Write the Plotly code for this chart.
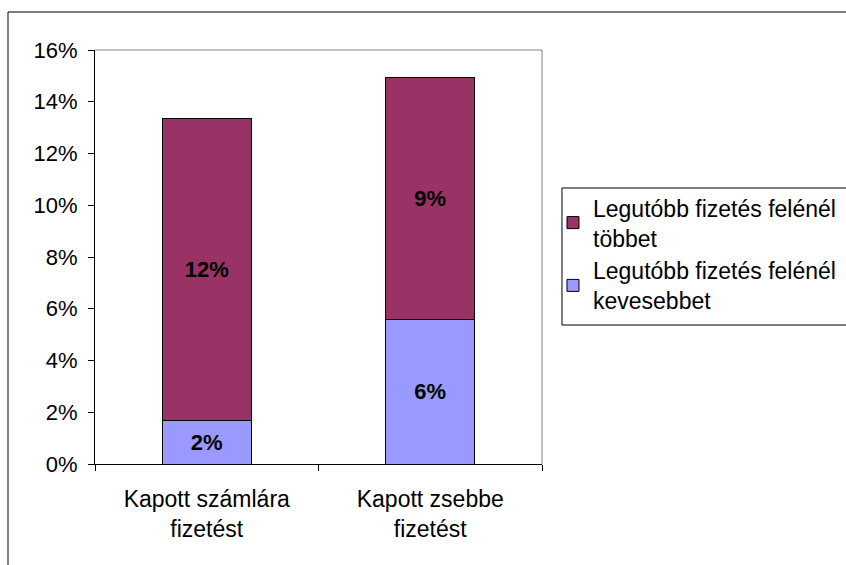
import plotly.graph_objects as go

# Categories and stacked shares
categories = ["Kapott számlára<br>fizetést", "Kapott zsebbe<br>fizetést"]
less_than_half = [0.017, 0.056]
more_than_half = [0.1167, 0.0932]
y_ticks = [0, 0.02, 0.04, 0.06, 0.08, 0.10, 0.12, 0.14, 0.16]

FONT = "Liberation Sans, Arial, sans-serif"

fig = go.Figure()

fig.add_trace(go.Bar(
    x=categories, y=less_than_half, name="Legutóbb fizetés felénél<br>kevesebbet",
    marker=dict(color="#9999FF", line=dict(color="black", width=1)),
    texttemplate="<b>%{y:.0%}</b>", textposition="inside", insidetextanchor="middle",
    constraintext="none", textfont=dict(color="black", size=22), width=0.4,
))
fig.add_trace(go.Bar(
    x=categories, y=more_than_half, name="Legutóbb fizetés felénél<br>többet",
    marker=dict(color="#993366", line=dict(color="black", width=1)),
    texttemplate="<b>%{y:.0%}</b>", textposition="inside", insidetextanchor="middle",
    constraintext="none", textfont=dict(color="black", size=22), width=0.4,
))

fig.update_layout(
    width=846, height=565, barmode="stack",
    margin=dict(l=95, r=304, t=50, b=101, autoexpand=False),
    paper_bgcolor="white", plot_bgcolor="white",
    font=dict(family=FONT, size=22, color="black"),
    showlegend=True,
    legend=dict(x=1.0246, y=0.671, xanchor="left", yanchor="top", traceorder="reversed",
                borderwidth=0, font=dict(size=23), bgcolor="rgba(0,0,0,0)"),
)

fig.update_xaxes(showline=True, linecolor="black", linewidth=1, ticks="outside",
                 tickson="boundaries", ticklen=6, tickcolor="black", showgrid=False,
                 tickfont=dict(size=23), ticklabelstandoff=14)
fig.update_yaxes(range=[0, 0.16], tickvals=y_ticks, tickformat=".0%", showline=True,
                 linecolor="black", linewidth=1, ticks="outside", ticklen=6,
                 tickcolor="black", showgrid=False, zeroline=False, ticklabelstandoff=6)

# gray plot frame top and right
fig.add_shape(type="line", xref="paper", yref="paper", x0=0, x1=1, y0=1, y1=1,
              line=dict(color="#808080", width=1))
fig.add_shape(type="line", xref="paper", yref="paper", x0=1, x1=1, y0=0, y1=1,
              line=dict(color="#808080", width=1))
# legend frame
fig.add_shape(type="rect", xref="paper", yref="paper", x0=1.0447, x1=2.0,
              y0=0.3357, y1=0.6667, line=dict(color="black", width=1))
# outer chart border
fig.add_shape(type="rect", xref="paper", yref="paper", x0=-0.1946, x1=2.0,
              y0=-0.4, y1=1.0918, line=dict(color="black", width=1))

fig.write_html("out.html", config={"displayModeBar": False},
               post_script="document.body.style.margin = '0';")
